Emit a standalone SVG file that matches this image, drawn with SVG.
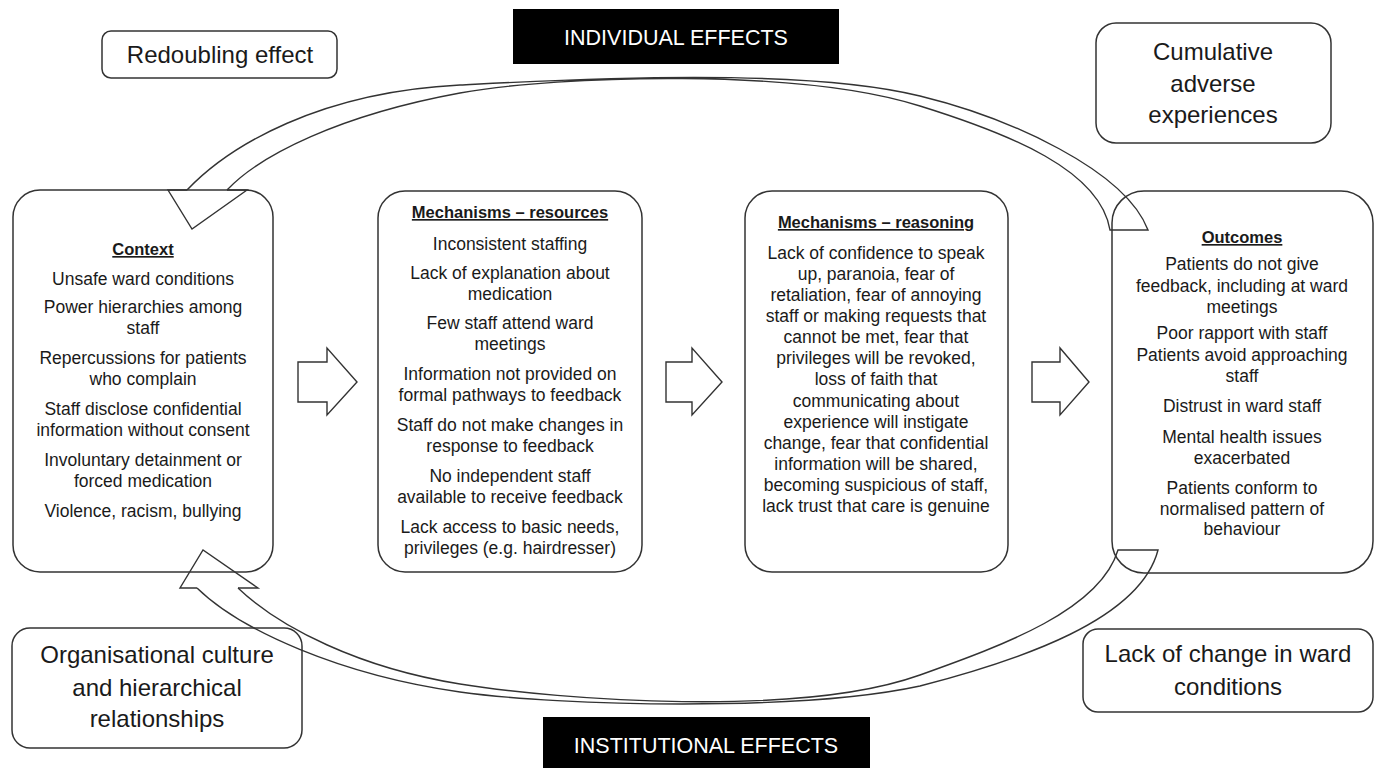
<svg xmlns="http://www.w3.org/2000/svg" width="1378" height="768" viewBox="0 0 1378 768">
<style>
.box{fill:#fff;stroke:#333;stroke-width:1.5}
.t{font-family:"Liberation Sans",Arial,sans-serif;font-size:17.5px;fill:#1a1a1a;text-anchor:middle}
.h{font-family:"Liberation Sans",Arial,sans-serif;font-size:16.5px;font-weight:bold;fill:#1a1a1a;text-anchor:middle;text-decoration:underline}
.big{font-family:"Liberation Sans",Arial,sans-serif;font-size:24px;fill:#1a1a1a;text-anchor:middle}
.banner{font-family:"Liberation Sans",Arial,sans-serif;font-size:21.5px;fill:#fff;text-anchor:middle}
.ln{fill:none;stroke:#333;stroke-width:1.4}
.blk{fill:#fff;stroke:#333;stroke-width:1.4}
</style>
<rect width="1378" height="768" fill="#fff"/>

<g id="individual-effects">
<rect x="513" y="9" width="326" height="55" fill="#000"/>
<text class="banner" x="676" y="45">INDIVIDUAL EFFECTS</text>
</g>
<g id="institutional-effects">
<rect x="543" y="717" width="327" height="60" fill="#000"/>
<text class="banner" x="706" y="753">INSTITUTIONAL EFFECTS</text>
</g>

<g id="redoubling">
<rect class="box" x="102" y="31" width="235" height="47" rx="9"/>
<text class="big" x="220" y="63">Redoubling effect</text>
</g>
<g id="cumulative">
<rect class="box" x="1096" y="23" width="235" height="120" rx="20"/>
<text class="big" x="1213" y="60">Cumulative</text>
<text class="big" x="1213" y="92">adverse</text>
<text class="big" x="1213" y="123">experiences</text>
</g>
<g id="organisational">
<rect class="box" x="12" y="628" width="290" height="120" rx="18"/>
<text class="big" x="157" y="663">Organisational culture</text>
<text class="big" x="157" y="696">and hierarchical</text>
<text class="big" x="157" y="727">relationships</text>
</g>
<g id="lack-of-change">
<rect class="box" x="1083" y="629" width="290" height="83" rx="15"/>
<text class="big" x="1228" y="662">Lack of change in ward</text>
<text class="big" x="1228" y="695">conditions</text>
</g>

<g id="context">
<rect class="box" x="13" y="190" width="260" height="382" rx="27"/>
<text class="h" x="143" y="255">Context</text>
<text class="t" x="143" y="285">Unsafe ward conditions</text>
<text class="t" x="143" y="313">Power hierarchies among</text>
<text class="t" x="143" y="334">staff</text>
<text class="t" x="143" y="364">Repercussions for patients</text>
<text class="t" x="143" y="385">who complain</text>
<text class="t" x="143" y="415">Staff disclose confidential</text>
<text class="t" x="143" y="436">information without consent</text>
<text class="t" x="143" y="466">Involuntary detainment or</text>
<text class="t" x="143" y="487">forced medication</text>
<text class="t" x="143" y="517">Violence, racism, bullying</text>
</g>

<g id="resources">
<rect class="box" x="378" y="191" width="264" height="381" rx="27"/>
<text class="h" x="510" y="218">Mechanisms – resources</text>
<text class="t" x="510" y="250">Inconsistent staffing</text>
<text class="t" x="510" y="279">Lack of explanation about</text>
<text class="t" x="510" y="300">medication</text>
<text class="t" x="510" y="329">Few staff attend ward</text>
<text class="t" x="510" y="350">meetings</text>
<text class="t" x="510" y="380">Information not provided on</text>
<text class="t" x="510" y="401">formal pathways to feedback</text>
<text class="t" x="510" y="431">Staff do not make changes in</text>
<text class="t" x="510" y="452">response to feedback</text>
<text class="t" x="510" y="482">No independent staff</text>
<text class="t" x="510" y="503">available to receive feedback</text>
<text class="t" x="510" y="533">Lack access to basic needs,</text>
<text class="t" x="510" y="554">privileges (e.g. hairdresser)</text>
</g>

<g id="reasoning">
<rect class="box" x="745" y="191" width="263" height="381" rx="27"/>
<text class="h" x="876" y="228">Mechanisms – reasoning</text>
<text class="t" x="876" y="259">Lack of confidence to speak</text>
<text class="t" x="876" y="280">up, paranoia, fear of</text>
<text class="t" x="876" y="301">retaliation, fear of annoying</text>
<text class="t" x="876" y="322">staff or making requests that</text>
<text class="t" x="876" y="343">cannot be met, fear that</text>
<text class="t" x="876" y="364">privileges will be revoked,</text>
<text class="t" x="876" y="385">loss of faith that</text>
<text class="t" x="876" y="407">communicating about</text>
<text class="t" x="876" y="428">experience will instigate</text>
<text class="t" x="876" y="449">change, fear that confidential</text>
<text class="t" x="876" y="470">information will be shared,</text>
<text class="t" x="876" y="491">becoming suspicious of staff,</text>
<text class="t" x="876" y="512">lack trust that care is genuine</text>
</g>

<g id="outcomes">
<rect class="box" x="1112" y="191" width="261" height="382" rx="32"/>
<text class="h" x="1242" y="243">Outcomes</text>
<text class="t" x="1242" y="270">Patients do not give</text>
<text class="t" x="1242" y="292">feedback, including at ward</text>
<text class="t" x="1242" y="313">meetings</text>
<text class="t" x="1242" y="339">Poor rapport with staff</text>
<text class="t" x="1242" y="361">Patients avoid approaching</text>
<text class="t" x="1242" y="382">staff</text>
<text class="t" x="1242" y="412">Distrust in ward staff</text>
<text class="t" x="1242" y="443">Mental health issues</text>
<text class="t" x="1242" y="464">exacerbated</text>
<text class="t" x="1242" y="494">Patients conform to</text>
<text class="t" x="1242" y="515">normalised pattern of</text>
<text class="t" x="1242" y="535">behaviour</text>
</g>

<g id="connectors">
<polygon class="blk" points="298,362 327,362 327,348 357,382 327,415 327,402 298,402"/>
<polygon class="blk" points="666,362 692,362 692,348 722,382 692,415 692,402 666,402"/>
<polygon class="blk" points="1032,362 1060,362 1060,348 1089,382 1060,415 1060,402 1032,402"/>
<!-- top curved arrow: outcomes -> context -->
<path class="ln" d="M187,190 C230,145 320,92 460,85 C560,80 800,66 920,96 C1010,118 1125,170 1148,230 L1110,230 C1100,170 1010,134 920,106 C800,68 560,75 460,93 C340,115 260,155 227,190"/>
<polyline class="ln" points="187,190 168,190 192,229 247,190 227,190"/>
<!-- bottom curved arrow: outcomes -> context -->
<path class="ln" d="M238,588 C280,628 360,668 460,684 C560,700 800,718 920,675 C1004,645 1100,610 1118,550 L1158,550 C1140,620 1020,660 920,686 C800,712 560,706 460,692 C340,675 240,630 197,588"/>
<polyline class="ln" points="197,588 180,588 203,550 258,588 238,588"/>
</g>
</svg>
